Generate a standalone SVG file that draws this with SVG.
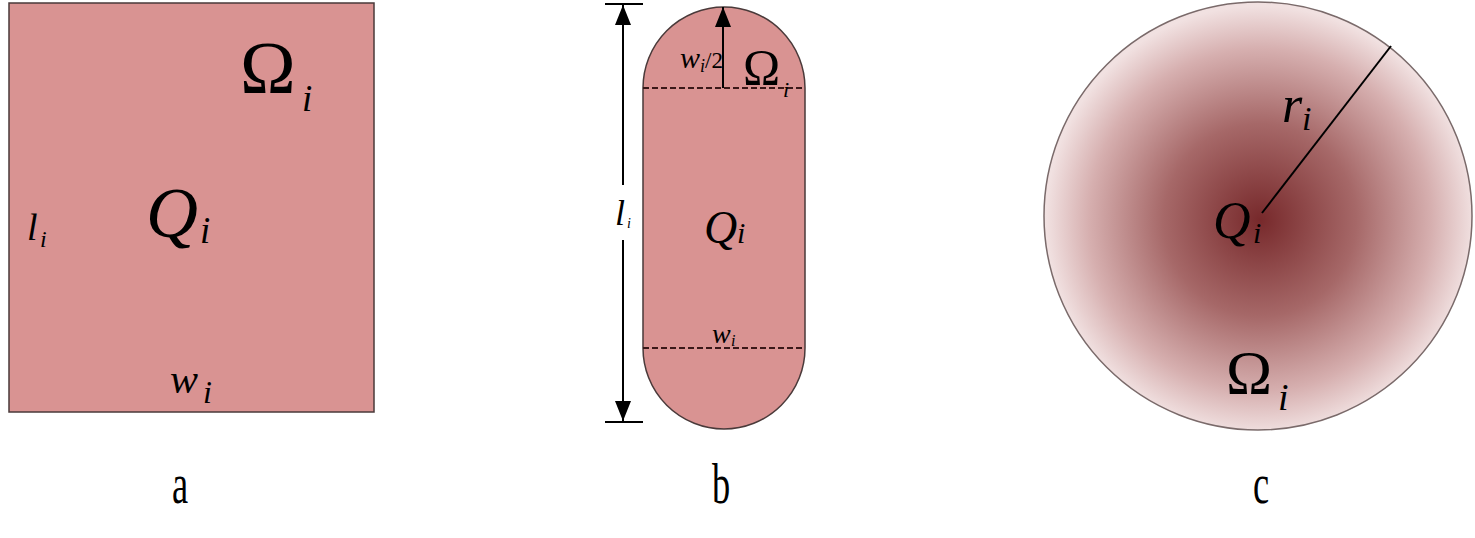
<svg xmlns="http://www.w3.org/2000/svg" width="1475" height="538" viewBox="0 0 1475 538">
  <defs>
    <radialGradient id="gradC" cx="1260" cy="220" r="214" gradientUnits="userSpaceOnUse">
      <stop offset="0" stop-color="#77292b"/>
      <stop offset="0.45" stop-color="#a66868"/>
      <stop offset="0.8" stop-color="#d6afaf"/>
      <stop offset="1" stop-color="#f1e1e1"/>
    </radialGradient>
    <marker id="arr" viewBox="0 0 20 16" refX="20" refY="8" markerWidth="20" markerHeight="16" markerUnits="userSpaceOnUse" orient="auto">
      <path d="M0,0 L20,8 L0,16 Z" fill="#000"/>
    </marker>
  </defs>
  <style>
    .shape { fill: #d99392; stroke: #4a3a3a; stroke-width: 1.5; }
    text { font-family: "Liberation Serif", "Times New Roman", "DejaVu Serif", serif; fill: #000; }
    .m { font-style: italic; }
    .cap { font-size: 56px; text-anchor: middle; }
    .dash { stroke: #3a1818; stroke-width: 1.8; stroke-dasharray: 6 3; fill: none; }
    .dim { stroke: #000; stroke-width: 2; fill: none; }
  </style>
  <rect width="1475" height="538" fill="#ffffff"/>

  <g id="panel-a">
    <rect class="shape" x="9" y="3" width="365" height="409"/>
    <text x="240" y="93" font-size="75">Ω</text>
    <text class="m" x="302" y="111" font-size="37">i</text>
    <text class="m" x="146" y="237" font-size="72">Q</text>
    <text class="m" x="200" y="243" font-size="37">i</text>
    <text class="m" x="27" y="240" font-size="38">l</text>
    <text class="m" x="40" y="247" font-size="24">i</text>
    <text class="m" x="170" y="393" font-size="42">w</text>
    <text class="m" x="203" y="403" font-size="32">i</text>
  </g>

  <g id="panel-b">
    <path class="shape" d="M643,88 A81,81 0 0 1 805,88 L805,348 A81,81 0 0 1 643,348 Z"/>
    <line class="dash" x1="643" y1="88" x2="805" y2="88"/>
    <line class="dash" x1="643" y1="348" x2="805" y2="348"/>
    <text class="m" x="680" y="68" font-size="30">w</text>
    <text class="m" x="700" y="72" font-size="18">i</text>
    <text x="705" y="68" font-size="23">/2</text>
    <text x="743" y="84" font-size="50">Ω</text>
    <text class="m" x="783" y="97" font-size="22">i</text>
    <text class="m" x="704" y="243" font-size="46">Q</text>
    <text class="m" x="737" y="243" font-size="30">i</text>
    <text class="m" x="712" y="343" font-size="28">w</text>
    <text class="m" x="731" y="346" font-size="16">i</text>
    <text class="m" x="615" y="225" font-size="36">l</text>
    <text class="m" x="627" y="228" font-size="14">i</text>
  </g>

  <g id="panel-c">
    <circle cx="1258" cy="216" r="214" fill="url(#gradC)" stroke="#7a6a6a" stroke-width="1.5"/>
    <text class="m" x="1282" y="122" font-size="52">r</text>
    <text class="m" x="1302" y="130" font-size="34">i</text>
    <text class="m" x="1213" y="238" font-size="52">Q</text>
    <text class="m" x="1253" y="243" font-size="30">i</text>
    <text x="1226" y="393" font-size="62">Ω</text>
    <text class="m" x="1278" y="410" font-size="38">i</text>
  </g>

  <g id="connectors">
    <line class="dim" x1="605" y1="4" x2="643" y2="4"/>
    <line class="dim" x1="605" y1="422" x2="643" y2="422"/>
    <line class="dim" x1="623" y1="185" x2="623" y2="5" marker-end="url(#arr)"/>
    <line class="dim" x1="623" y1="240" x2="623" y2="421" marker-end="url(#arr)"/>
    <line class="dim" x1="723" y1="88" x2="723" y2="7" marker-end="url(#arr)"/>
    <line stroke="#000" stroke-width="2" x1="1262" y1="213" x2="1391" y2="46"/>
  </g>

  <g id="captions">
    <text class="cap" transform="translate(180,503) scale(0.65,1)">a</text>
    <text class="cap" transform="translate(721,503) scale(0.65,1)">b</text>
    <text class="cap" transform="translate(1261,503) scale(0.65,1)">c</text>
  </g>
</svg>
